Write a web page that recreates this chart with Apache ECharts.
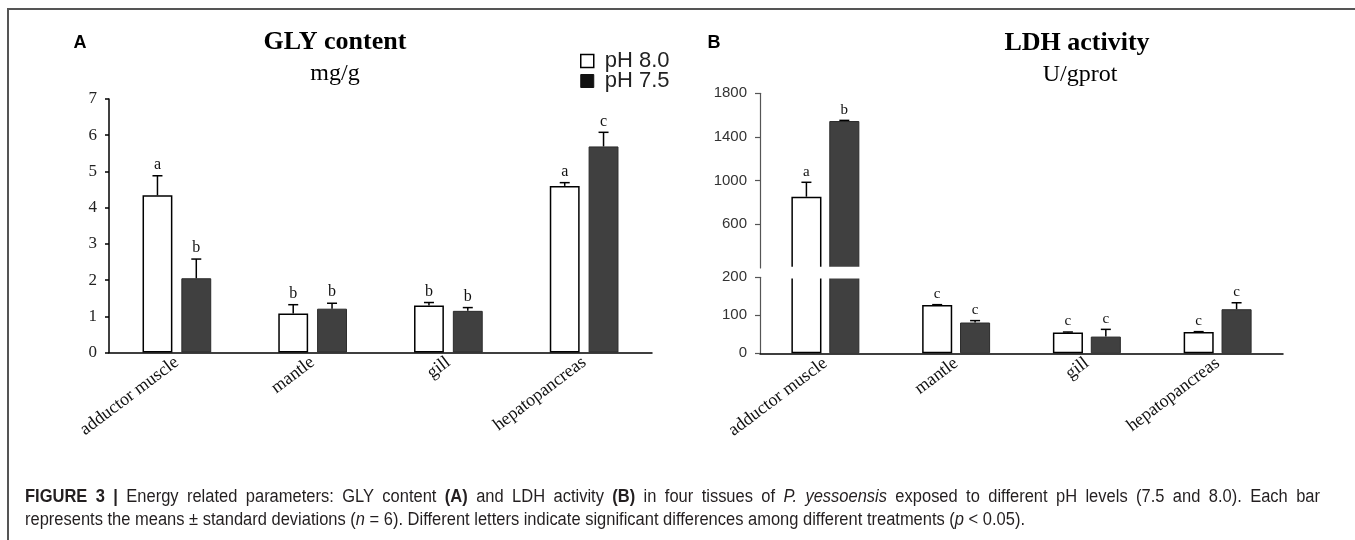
<!DOCTYPE html>
<html>
<head>
<meta charset="utf-8">
<script src="https://cdn.jsdelivr.net/npm/echarts@6/dist/echarts.min.js"></script>
<style>
html,body{margin:0;padding:0;background:#fff;}
#c{width:1355px;height:540px;}
</style>
</head>
<body>
<div id="c"></div>
<script>
// ---------- data ----------
const categories = ['adductor muscle', 'mantle', 'gill', 'hepatopancreas'];
const seriesNames = ['pH 8.0', 'pH 7.5'];

// Panel A: GLY content (mg/g)
const glyPH80 = [4.34, 1.08, 1.30, 4.60];
const glyPH80Sd = [0.54, 0.24, 0.08, 0.09];
const glyPH80Letters = ['a', 'b', 'b', 'a'];
const glyPH75 = [2.05, 1.21, 1.15, 5.69];
const glyPH75Sd = [0.53, 0.15, 0.09, 0.39];
const glyPH75Letters = ['b', 'b', 'b', 'c'];

// Panel B: LDH activity (U/gprot), broken axis
const ldhPH80 = [853, 127, 55, 56];
const ldhPH80Sd = [132, 1, 1, 1];
const ldhPH80Letters = ['a', 'c', 'c', 'c'];
const ldhPH75 = [1546, 81, 44, 116];
const ldhPH75Sd = [6, 5, 19, 17];
const ldhPH75Letters = ['b', 'c', 'c', 'c'];

const breakValue = 200;                  // axis break of panel B
const ldhUpperTicks = [200, 1800, 400];  // min, max, interval
const ldhLowerTicks = [0, 200, 100];
const glyTicks = [0, 7, 1];

const captionLine1 = '{b|FIGURE 3 |} Energy related parameters: GLY content {b|(A)} and LDH activity {b|(B)} in four tissues of {i|P. yessoensis} exposed to different pH levels (7.5 and 8.0). Each bar';
const captionLine2 = 'represents the means \u00b1 standard deviations ({i|n} = 6). Different letters indicate significant differences among different treatments ({i|p} < 0.05).';

// ---------- layout / style ----------
const SERIF = '"Liberation Serif", "Times New Roman", serif';
const SANS = '"Liberation Sans", Arial, sans-serif';
const gridA = {left: 109, top: 99, width: 543, height: 253.5};
const gridBU = {left: 760, top: 93.3, width: 523, height: 174.7};
const gridBL = {left: 760, top: 277.3, width: 523, height: 76};
const whiteStyle = {color: '#ffffff', borderColor: '#000', borderWidth: 1.5};
const darkStyle = {color: '#404040', borderColor: '#2b2b2b', borderWidth: 1};
const CAP_COLOR = '#231f20';

const chart = echarts.init(document.getElementById('c'), null, {renderer: 'canvas'});

function errSeries(xi, yi, vals, sds, letters, side, frac, fontSize, keep) {
  const data = [];
  vals.forEach((v, i) => { if (keep(v)) data.push([i, v, sds[i]]); });
  return {
    type: 'custom', xAxisIndex: xi, yAxisIndex: yi, z: 5, silent: true, clip: false,
    data: data, encode: {x: 0, y: 1},
    renderItem: function (params, api) {
      const i = api.value(0), v = api.value(1), sd = api.value(2);
      const catW = api.size([1, 0])[0];
      const b = api.coord([i, v]);
      const t = api.coord([i, v + sd]);
      const x = b[0] + side * frac * catW;
      return {
        type: 'group', children: [
          {type: 'line', shape: {x1: x, y1: b[1], x2: x, y2: t[1]}, style: {stroke: '#000', lineWidth: 1.5}},
          {type: 'line', shape: {x1: x - 5, y1: t[1], x2: x + 5, y2: t[1]}, style: {stroke: '#000', lineWidth: 1.5}},
          {type: 'text', x: x, y: t[1] - 3, style: {text: letters[i], fill: '#111', font: fontSize + 'px ' + SERIF, textAlign: 'center', textVerticalAlign: 'bottom'}}
        ]
      };
    }
  };
}

const catAxisCommon = {
  type: 'category', data: categories,
  axisLine: {lineStyle: {color: '#000', width: 1.5}},
  axisTick: {length: 6, lineStyle: {color: '#000', width: 1.5}},
  axisLabel: {rotate: 37, margin: 8, fontFamily: SERIF, fontSize: 18, color: '#111'}
};
const plainNumber = v => String(v);

const option = {
  backgroundColor: '#fff',
  animation: false,
  grid: [gridA, gridBU, gridBL],
  legend: {
    data: [
      {name: seriesNames[0], itemStyle: {color: '#fff', borderColor: '#000', borderWidth: 1.5}},
      {name: seriesNames[1], itemStyle: {color: '#111', borderColor: '#111', borderWidth: 1}}
    ],
    orient: 'vertical', left: 575, top: 45, icon: 'rect',
    itemWidth: 13, itemHeight: 13, itemGap: -2, selectedMode: false,
    textStyle: {fontFamily: SANS, fontSize: 22, color: '#222', padding: [0, 0, 0, 6]}
  },
  xAxis: [
    Object.assign({gridIndex: 0}, catAxisCommon),
    {gridIndex: 1, type: 'category', data: categories, show: false},
    Object.assign({gridIndex: 2}, catAxisCommon)
  ],
  yAxis: [
    {gridIndex: 0, type: 'value', min: glyTicks[0], max: glyTicks[1], interval: glyTicks[2],
      splitLine: {show: false},
      axisLine: {show: true, lineStyle: {color: '#000', width: 1.5}},
      axisTick: {show: true, length: 4, lineStyle: {color: '#000', width: 1.5}},
      axisLabel: {fontFamily: SERIF, fontSize: 17, color: '#222', margin: 12}},
    {gridIndex: 1, type: 'value', min: ldhUpperTicks[0], max: ldhUpperTicks[1], interval: ldhUpperTicks[2],
      splitLine: {show: false},
      axisLine: {show: true, lineStyle: {color: '#555', width: 1.2}},
      axisTick: {show: true, length: 5, lineStyle: {color: '#555', width: 1.2}},
      axisLabel: {fontFamily: SANS, fontSize: 15, color: '#333', margin: 13, showMinLabel: false, formatter: plainNumber}},
    {gridIndex: 2, type: 'value', min: ldhLowerTicks[0], max: ldhLowerTicks[1], interval: ldhLowerTicks[2],
      splitLine: {show: false},
      axisLine: {show: true, lineStyle: {color: '#555', width: 1.2}},
      axisTick: {show: true, length: 5, lineStyle: {color: '#555', width: 1.2}},
      axisLabel: {fontFamily: SANS, fontSize: 15, color: '#333', margin: 13, formatter: plainNumber}}
  ],
  series: [
    {type: 'bar', name: seriesNames[0], xAxisIndex: 0, yAxisIndex: 0, data: glyPH80, barWidth: '22%', barGap: '30%', itemStyle: whiteStyle},
    {type: 'bar', name: seriesNames[1], xAxisIndex: 0, yAxisIndex: 0, data: glyPH75, barWidth: '22%', barGap: '30%', itemStyle: darkStyle},
    {type: 'bar', name: seriesNames[0], xAxisIndex: 1, yAxisIndex: 1, data: ldhPH80.map(v => v >= breakValue ? v : '-'), barWidth: '23%', barGap: '26%', itemStyle: whiteStyle},
    {type: 'bar', name: seriesNames[1], xAxisIndex: 1, yAxisIndex: 1, data: ldhPH75.map(v => v >= breakValue ? v : '-'), barWidth: '23%', barGap: '26%', itemStyle: darkStyle},
    {type: 'bar', name: seriesNames[0], xAxisIndex: 2, yAxisIndex: 2, data: ldhPH80, barWidth: '23%', barGap: '26%', itemStyle: whiteStyle},
    {type: 'bar', name: seriesNames[1], xAxisIndex: 2, yAxisIndex: 2, data: ldhPH75, barWidth: '23%', barGap: '26%', itemStyle: darkStyle},
    errSeries(0, 0, glyPH80, glyPH80Sd, glyPH80Letters, -1, 0.143, 16, () => true),
    errSeries(0, 0, glyPH75, glyPH75Sd, glyPH75Letters, 1, 0.143, 16, () => true),
    errSeries(1, 1, ldhPH80, ldhPH80Sd, ldhPH80Letters, -1, 0.145, 15, v => v >= breakValue),
    errSeries(1, 1, ldhPH75, ldhPH75Sd, ldhPH75Letters, 1, 0.145, 15, v => v >= breakValue),
    errSeries(2, 2, ldhPH80, ldhPH80Sd, ldhPH80Letters, -1, 0.145, 15, v => v < breakValue),
    errSeries(2, 2, ldhPH75, ldhPH75Sd, ldhPH75Letters, 1, 0.145, 15, v => v < breakValue)
  ]
};
chart.setOption(option);

// ---------- caption: condensed font, first line justified ----------
const CAP_SIZE = 18;
const CAP_LEFT = 25;
const CAP_RIGHT = 1320;
const CAP_LINE2_END = 1025;
const capFonts = {
  n: CAP_SIZE + 'px "Liberation Sans"',
  b: 'bold ' + CAP_SIZE + 'px "Liberation Sans"',
  i: 'italic ' + CAP_SIZE + 'px "Liberation Sans"'
};
const ctx = document.createElement('canvas').getContext('2d');
function parseWords(str) {
  const words = [];
  const re = /\{([bi])\|([^}]*)\}|([^{]+)/g;
  let m;
  while ((m = re.exec(str))) {
    const st = m[1] || 'n';
    const txt = m[2] !== undefined ? m[2] : m[3];
    txt.split(' ').forEach(w => { if (w) words.push({w: w, st: st}); });
  }
  return words;
}
function measure(w, st) { ctx.font = capFonts[st]; return ctx.measureText(w).width; }
const stripRich = s => s.replace(/\{[bi]\|([^}]*)\}/g, '$1');
ctx.font = capFonts.n;
const capScale = (CAP_LINE2_END - CAP_LEFT) / ctx.measureText(stripRich(captionLine2)).width;

const captionGraphics = [];
const words1 = parseWords(captionLine1);
const widths1 = words1.map(o => measure(o.w, o.st) * capScale);
const totalW = widths1.reduce((a, b) => a + b, 0);
const gap = (CAP_RIGHT - CAP_LEFT - totalW) / (words1.length - 1);
let cx = CAP_LEFT;
words1.forEach((o, k) => {
  captionGraphics.push({type: 'text', x: cx, y: 497, scaleX: capScale, silent: true,
    style: {text: o.w, font: capFonts[o.st], fill: CAP_COLOR, textAlign: 'left', textVerticalAlign: 'middle'}});
  cx += widths1[k] + gap;
});
const richCap = {
  b: {fontFamily: 'Liberation Sans', fontSize: CAP_SIZE, fontWeight: 'bold', fill: CAP_COLOR},
  i: {fontFamily: 'Liberation Sans', fontSize: CAP_SIZE, fontStyle: 'italic', fill: CAP_COLOR}
};
captionGraphics.push({type: 'text', x: CAP_LEFT, y: 520, scaleX: capScale, silent: true,
  style: {text: captionLine2, fontFamily: 'Liberation Sans', fontSize: CAP_SIZE, fill: CAP_COLOR, textAlign: 'left', textVerticalAlign: 'middle', rich: richCap}});

// break band positions from the axes
const yUpperBottom = chart.convertToPixel({yAxisIndex: 1}, breakValue);
const yLowerTop = chart.convertToPixel({yAxisIndex: 2}, breakValue);

chart.setOption({
  graphic: [
    {type: 'polyline', shape: {points: [[8, 540], [8, 9], [1355, 9]]}, style: {stroke: '#555', lineWidth: 2, fill: null}, silent: true},
    {type: 'rect', z: 100, shape: {x: gridBL.left + 2.5, y: yUpperBottom - 1.2, width: gridBL.width, height: (yLowerTop - yUpperBottom) + 2.4}, style: {fill: '#fff'}, silent: true},
    {type: 'text', x: 80, y: 43, style: {text: 'A', font: 'bold 18px ' + SANS, fill: '#000', textAlign: 'center', textVerticalAlign: 'middle'}},
    {type: 'text', x: 335, y: 42, style: {text: 'GLY content', font: 'bold 26px ' + SERIF, fill: '#000', textAlign: 'center', textVerticalAlign: 'middle'}},
    {type: 'text', x: 335, y: 74, style: {text: 'mg/g', font: '24px ' + SERIF, fill: '#000', textAlign: 'center', textVerticalAlign: 'middle'}},
    {type: 'text', x: 714, y: 43, style: {text: 'B', font: 'bold 18px ' + SANS, fill: '#000', textAlign: 'center', textVerticalAlign: 'middle'}},
    {type: 'text', x: 1077, y: 43, style: {text: 'LDH activity', font: 'bold 26px ' + SERIF, fill: '#000', textAlign: 'center', textVerticalAlign: 'middle'}},
    {type: 'text', x: 1080, y: 75, style: {text: 'U/gprot', font: '24px ' + SERIF, fill: '#000', textAlign: 'center', textVerticalAlign: 'middle'}}
  ].concat(captionGraphics)
});
</script>
</body>
</html>
